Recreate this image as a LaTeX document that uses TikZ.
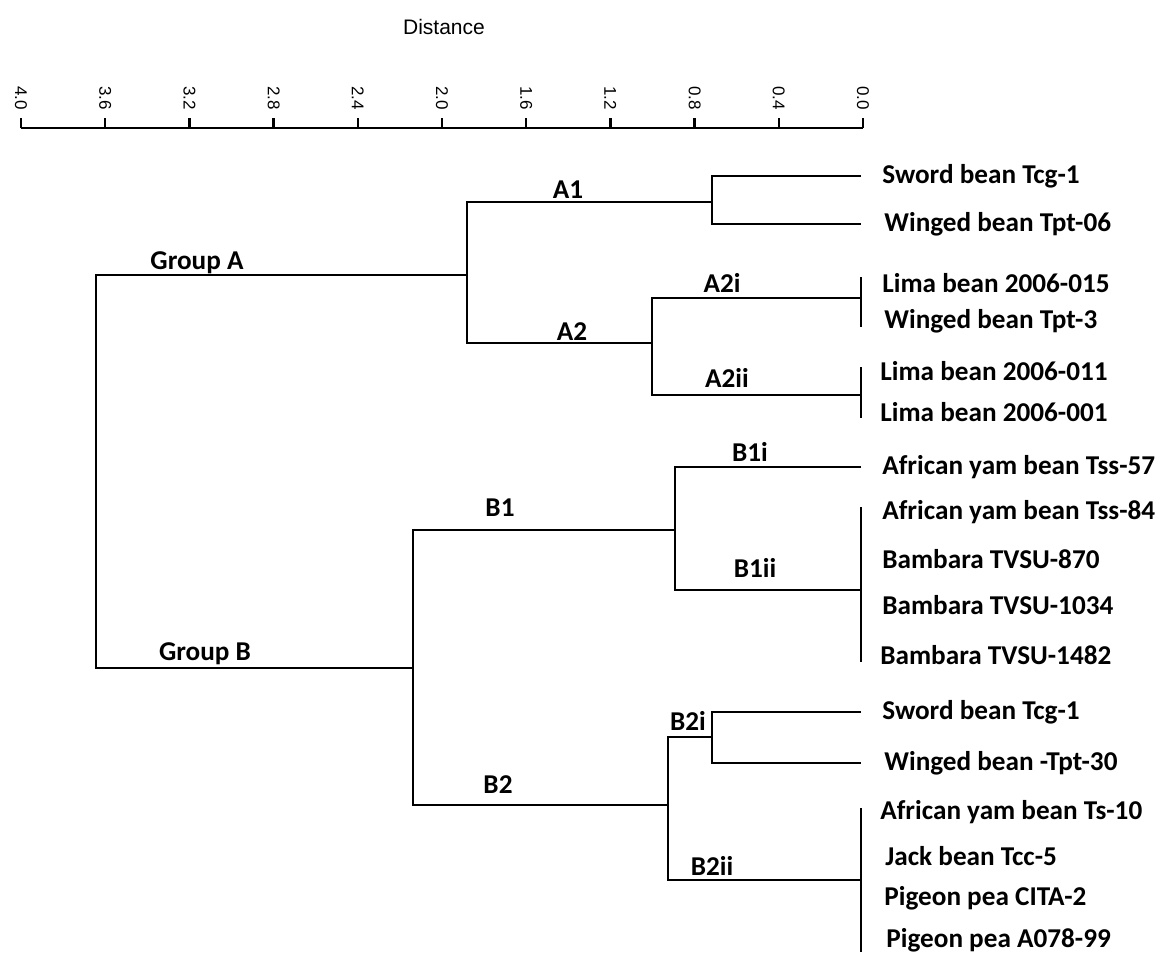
\documentclass[tikz,border=0pt]{standalone}
\usepackage{fontspec}
\setmainfont{Carlito}
\newfontfamily\axisfont{Liberation Sans}
\usetikzlibrary{calc}

\begin{document}
\begin{tikzpicture}[x=0.5pt, y=-0.5pt,
    branch/.style={line width=1.25pt},
    leaf/.style={anchor=west, inner sep=0pt, font=\fontsize{13.6}{16}\selectfont\bfseries},
    clade/.style={anchor=base, inner sep=0pt, font=\fontsize{13.6}{16}\selectfont\bfseries},
    tickmark/.style={line width=1.2pt},
    ticklabel/.style={rotate=-90, anchor=east, inner sep=3.5pt, font=\axisfont\fontsize{8.5}{10}\selectfont}
  ]
  \useasboundingbox (0,0) rectangle (1159,958);

  % distance axis
  \node[font=\axisfont\fontsize{10.5}{12}\selectfont] (dist) at (444,27) {Distance};
  \coordinate (ax0) at (863,128);
  \coordinate (ax4) at (21,128);
  \draw[tickmark] (ax4) -- (ax0);
  \foreach \t [count=\i from 0] in {0.0,0.4,0.8,1.2,1.6,2.0,2.4,2.8,3.2,3.6,4.0}
    \draw[tickmark] (863-84.2*\i,128) -- ++(0,-10) node[ticklabel] (t\i) {\t};

  % accessions
  \node[leaf] (l1) at (882,176) {Sword bean Tcg-1};
  \node[leaf] (l2) at (884,224) {Winged bean Tpt-06};
  \node[leaf] (l3) at (882,283) {Lima bean 2006-015};
  \node[leaf] (l4) at (884,321) {Winged bean Tpt-3};
  \node[leaf] (l5) at (880,371) {Lima bean 2006-011};
  \node[leaf] (l6) at (880,412) {Lima bean 2006-001};
  \node[leaf] (l7) at (882,467) {African yam bean Tss-57};
  \node[leaf] (l8) at (882,512) {African yam bean Tss-84};
  \node[leaf] (l9) at (882,559) {Bambara TVSU-870};
  \node[leaf] (l10) at (882,605) {Bambara TVSU-1034};
  \node[leaf] (l11) at (880,655) {Bambara TVSU-1482};
  \node[leaf] (l12) at (882,712) {Sword bean Tcg-1};
  \node[leaf] (l13) at (884,763) {Winged bean -Tpt-30};
  \node[leaf] (l14) at (880,812) {African yam bean Ts-10};
  \node[leaf] (l15) at (885,856) {Jack bean Tcc-5};
  \node[leaf] (l16) at (884,898) {Pigeon pea CITA-2};
  \node[leaf] (l17) at (886,940) {Pigeon pea A078-99};

  % clusters
  \coordinate (tip) at (861,0);
  \coordinate (root) at (96,470);
  \coordinate (ga) at (467,275);
  \coordinate (gb) at (413,668);
  \coordinate (a1) at (712,202);
  \coordinate (a2) at (652,343);
  \coordinate (a2i) at (861,298);
  \coordinate (a2ii) at (861,395);
  \coordinate (b1) at (675,530);
  \coordinate (b2) at (668,805);
  \coordinate (b1ii) at (861,590);
  \coordinate (b2i) at (712,737);
  \coordinate (b2ii) at (861,880);

  \draw[branch] (ga) -- (ga -| root) -- (gb -| root) -- (gb);
  \draw[branch] (a1) -- (a1 -| ga) -- (a2 -| ga) -- (a2);
  \draw[branch] (tip |- l1) -- (a1 |- l1) -- (a1 |- l2) -- (tip |- l2);
  \draw[branch] (a2i) -- (a2i -| a2) -- (a2ii -| a2) -- (a2ii);
  \draw[branch] ($(tip |- l3)+(0,-6)$) -- ($(tip |- l4)+(0,6)$);
  \draw[branch] ($(tip |- l5)+(0,-4)$) -- ($(tip |- l6)+(0,6)$);
  \draw[branch] (b1) -- (b1 -| gb) -- (b2 -| gb) -- (b2);
  \draw[branch] (tip |- l7) -- (b1 |- l7) -- (b1 |- b1ii) -- (b1ii);
  \draw[branch] ($(tip |- l8)+(0,-5)$) -- ($(tip |- l11)+(0,7)$);
  \draw[branch] (b2i) -- (b2i -| b2) -- (b2ii -| b2) -- (b2ii);
  \draw[branch] (tip |- l12) -- (b2i |- l12) -- (b2i |- l13) -- (tip |- l13);
  \draw[branch] ($(tip |- l14)+(0,-4)$) -- ($(tip |- l17)+(0,12)$);

  \node[clade] (lga) at (197,269) {Group A};
  \node[clade] (lgb) at (205,660) {Group B};
  \node[clade] (la1) at (568,198) {A1};
  \node[clade] (la2) at (572,340) {A2};
  \node[clade] (la2i) at (722,292) {A2i};
  \node[clade] (la2ii) at (727,387) {A2ii};
  \node[clade] (lb1) at (500,516) {B1};
  \node[clade] (lb1i) at (750,461) {B1i};
  \node[clade] (lb1ii) at (755,577) {B1ii};
  \node[clade] (lb2) at (498,793) {B2};
  \node[clade] (lb2i) at (688,730) {B2i};
  \node[clade] (lb2ii) at (712,875) {B2ii};
\end{tikzpicture}
\end{document}
